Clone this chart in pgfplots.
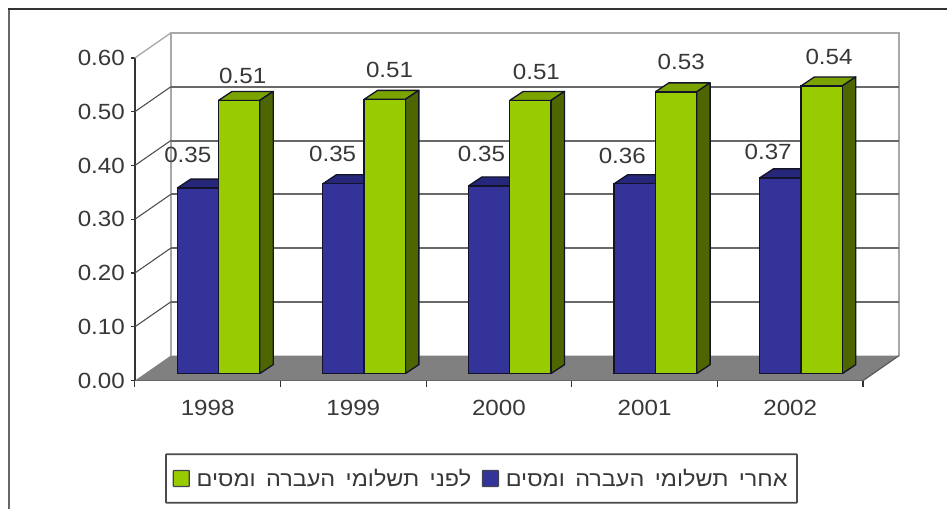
\documentclass[border=0pt]{standalone}
\usepackage{fontspec}
\usepackage{pgfplots}
\pgfplotsset{compat=1.18}
\TeXXeTstate=1
\setmainfont[FakeStretch=1.1]{Liberation Sans}
\newfontfamily\heb[Script=Hebrew,FakeStretch=1.1,WordSpace=1.6]{Liberation Sans}
\definecolor{txt}{HTML}{383838}
\definecolor{barline}{HTML}{141428}
\definecolor{bfront}{HTML}{333399}
\definecolor{btop}{HTML}{26267A}
\definecolor{bside}{HTML}{1C1C5C}
\definecolor{gfront}{HTML}{99CC00}
\definecolor{gtop}{HTML}{7AA300}
\definecolor{gside}{HTML}{4D6600}
\definecolor{floorc}{HTML}{808080}
\definecolor{wall}{HTML}{A8A8A8}
\definecolor{gridc}{HTML}{686868}
% reference pixels to axis units
\newcommand\px[2]{(axis cs:{(#1-135)/145.8},{(381-#2)/538.3})}
% top and side face of one bar, left edge and value in axis units
\newcommand\faces[4]{%
  \pgfmathsetmacro\xr{#1+0.2833}%
  \pgfmathsetmacro\xb{\xr+0.0926}%
  \pgfmathsetmacro\xc{#1+0.0926}%
  \pgfmathsetmacro\yf{#2+0.0130}%
  \pgfmathsetmacro\yb{\yf+0.0167}%
  \edef\tmp{\noexpand\addplot[forget plot,fill=#3,draw=barline,line width=1pt,line join=round] coordinates {(#1,\yf) (\xr,\yf) (\xb,\yb) (\xc,\yb) (#1,\yf)};
    \noexpand\addplot[forget plot,fill=#4,draw=barline,line width=1pt,line join=round] coordinates {(\xr,0.0130) (\xb,0.0297) (\xb,\yb) (\xr,\yf) (\xr,0.0130)};}%
  \tmp}
\pgfplotstableread{
x    after  before
0.5  0.345  0.508
1.5  0.353  0.510
2.5  0.349  0.508
3.5  0.353  0.524
4.5  0.364  0.535
}\datatable
\begin{document}
\begin{tikzpicture}
\begin{axis}[
  scale only axis, width=546.75pt, height=242.25pt,
  xmin=0, xmax=5, ymin=0, ymax=0.6, clip=false,
  axis lines=left, axis line style={-, black!80, line width=1pt},
  tick align=outside,
  major tick length=3pt, minor tick length=4.5pt,
  tick style={black!80, line width=0.9pt},
  xtick={0.5,1.5,2.5,3.5,4.5},
  xticklabels={1998,1999,2000,2001,2002},
  minor xtick={0,1,2,3,4,5},
  major x tick style={draw=none},
  ytick={0,0.1,0.2,0.3,0.4,0.5,0.6},
  /pgf/number format/assume math mode=true,
  /pgf/number format/fixed, /pgf/number format/fixed zerofill,
  /pgf/number format/precision=2,
  tick label style={font=\fontsize{16.5}{19}\selectfont, text=txt},
  xticklabel style={yshift=-8pt},
  yticklabel style={xshift=-1pt},
  legend columns=2,
  legend style={at={\px{482}{479}}, anchor=center, draw=black!70, line width=1.3pt,
    rounded corners=0.5pt, font=\heb\fontsize{16}{19}\selectfont, text=txt,
    inner xsep=5pt, inner ysep=9pt,
    /tikz/column 1/.style={column sep=3pt},
    /tikz/column 2/.style={column sep=6pt},
    /tikz/column 3/.style={column sep=3pt}},
]
% page and outer frame
\path \px{0}{0} rectangle \px{948}{510};
\draw[black!60, line width=1.9pt] \px{9}{510} -- \px{9}{9};
\draw[black!80, line width=1.6pt] \px{8}{9} -- \px{948}{9};
% legend
\addlegendimage{legend image code/.code={\draw[fill=gfront,draw=barline!80,line width=1pt] (0pt,-6pt) rectangle (12pt,6pt);}}
\addlegendentry{\beginR לפני תשלומי העברה ומסים\endR}
\addlegendimage{legend image code/.code={\draw[fill=bfront,draw=barline!80,line width=1pt] (0pt,-6pt) rectangle (12pt,6pt);}}
\addlegendentry{\beginR אחרי תשלומי העברה ומסים\endR}
% walls and floor
\fill[floorc] \px{135}{381} -- \px{864}{381} -- \px{900}{356} -- \px{171}{356} -- cycle;
\draw[wall, line width=1.4pt] \px{171}{356} -- \px{171}{33} -- \px{900}{33} -- \px{900}{356};
\draw[wall, line width=1pt] \px{135}{58} -- \px{171}{33};
\draw[black!65, line width=0.9pt] \px{864}{381} -- \px{900}{356};
\pgfplotsinvokeforeach{0.1,0.2,0.3,0.4,0.5}{
  \draw[gridc, line width=1.5pt] (axis cs:0.2469,#1+0.0464) -- (axis cs:5.2469,#1+0.0464);
  \draw[black!70, line width=0.8pt] (axis cs:0,#1) -- (axis cs:0.2469,#1+0.0464);
}
% bars
\faces{0.2908}{0.345}{btop}{bside}
\faces{1.2908}{0.353}{btop}{bside}
\faces{2.2908}{0.349}{btop}{bside}
\faces{3.2908}{0.353}{btop}{bside}
\faces{4.2908}{0.364}{btop}{bside}
\addplot[forget plot, ybar, bar width=31pt, bar shift=-15.5pt, shift={(8.1pt,5.25pt)},
  fill=bfront, draw=barline, line width=1pt] table[x=x,y=after] {\datatable};
\faces{0.5741}{0.508}{gtop}{gside}
\faces{1.5741}{0.510}{gtop}{gside}
\faces{2.5741}{0.508}{gtop}{gside}
\faces{3.5741}{0.524}{gtop}{gside}
\faces{4.5741}{0.535}{gtop}{gside}
\addplot[forget plot, ybar, bar width=31pt, bar shift=15.5pt, shift={(8.1pt,5.25pt)},
  fill=gfront, draw=barline, line width=1pt] table[x=x,y=before] {\datatable};
% value labels
\begin{scope}[every node/.style={font=\fontsize{16.5}{19}\selectfont, text=txt, inner sep=0pt}]
\node at \px{188}{155} {0.35};
\node at \px{243}{76} {0.51};
\node at \px{333}{154} {0.35};
\node at \px{390}{70} {0.51};
\node at \px{482}{154} {0.35};
\node at \px{537}{72} {0.51};
\node at \px{623}{156} {0.36};
\node at \px{682}{62} {0.53};
\node at \px{769}{152} {0.37};
\node at \px{830}{57} {0.54};
\end{scope}
\end{axis}
\end{tikzpicture}
\end{document}
